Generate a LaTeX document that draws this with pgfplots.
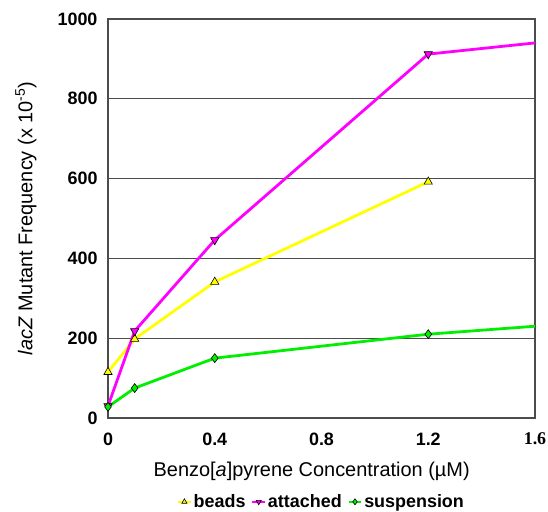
\documentclass[border=0pt]{standalone}
\usepackage{pgfplots}
\pgfplotsset{compat=1.18}
\usepackage{fontspec}
\setmainfont{Liberation Sans}
\newfontfamily\seriffont{Liberation Serif}
\definecolor{beadsc}{RGB}{255,255,0}
\definecolor{attc}{RGB}{255,0,255}
\definecolor{susc}{RGB}{0,238,0}
\begin{document}
\begin{tikzpicture}
\begin{axis}[
  scale only axis,
  width=427bp, height=399bp,
  xmin=0, xmax=1.6, ymin=0, ymax=1000,
  xtick={0,0.4,0.8,1.2,1.6},
  xticklabels={\textbf{0},\textbf{0.4},\textbf{0.8},\textbf{1.2},{\seriffont\bfseries 1.6}},
  ytick={0,200,400,600,800,1000},
  yticklabels={\textbf{0},\textbf{200},\textbf{400},\textbf{600},\textbf{800},\textbf{1000}},
  ymajorgrids,
  major grid style={draw=black!70, line width=1.1pt},
  axis line style={draw=black!70, line width=1.1pt},
  major tick length=0pt,
  tick label style={font=\fontsize{18}{20}\selectfont},
  xticklabel style={yshift=-11bp},
  yticklabel style={xshift=-7bp},
  xlabel={Benzo[\textit{a}]pyrene Concentration (\textmu M)},
  ylabel={\textit{lacZ} Mutant Frequency (x 10\textsuperscript{-5})},
  label style={font=\fontsize{20}{22}\selectfont},
  xlabel style={at={(axis description cs:0.477,-0.133)}, anchor=center},
  ylabel style={at={(axis description cs:-0.192,0.5)}, anchor=center},
  legend style={at={(axis description cs:0.5,-0.21)}, anchor=center, draw=none, legend columns=-1,
    font=\fontsize{18}{20}\selectfont\bfseries, inner sep=0pt,
    /tikz/every even column/.append style={column sep=4pt}},
  legend image code/.code={\draw[#1, line width=1.8pt] (0cm,0cm) -- (0.45cm,0cm); \draw[#1, only marks, mark size=3pt] plot coordinates {(0.225cm,0cm)};},
  clip=true,
]
\addplot[beadsc, line width=2.8pt, mark=triangle*, mark size=4.8pt,
  mark options={fill=beadsc, draw=black, line width=0.6pt}]
  coordinates {(0,115) (0.1,198) (0.4,341) (1.2,592)};
\addlegendentry{beads}
\addplot[attc, line width=2.8pt, mark=triangle*, mark size=4.8pt,
  mark options={rotate=180, fill=attc, draw=black, line width=0.6pt}, mark indices={1,2,3,4}]
  coordinates {(0,30) (0.1,218) (0.4,446) (1.2,912) (1.6,940)};
\addlegendentry{attached}
\addplot[susc, line width=2.8pt, mark=diamond*, mark size=4.5pt,
  mark options={fill=susc, draw=black, line width=0.6pt}, mark indices={1,2,3,4}]
  coordinates {(0,28) (0.1,75) (0.4,150) (1.2,210) (1.6,230)};
\addlegendentry{suspension}
\coordinate (O) at (rel axis cs:0,0);
\coordinate (T) at (rel axis cs:1,1);
\end{axis}
\pgfresetboundingbox
\path ([shift={(-108bp,-94bp)}]O) rectangle ([shift={(13bp,19bp)}]T);
\end{tikzpicture}
\end{document}
